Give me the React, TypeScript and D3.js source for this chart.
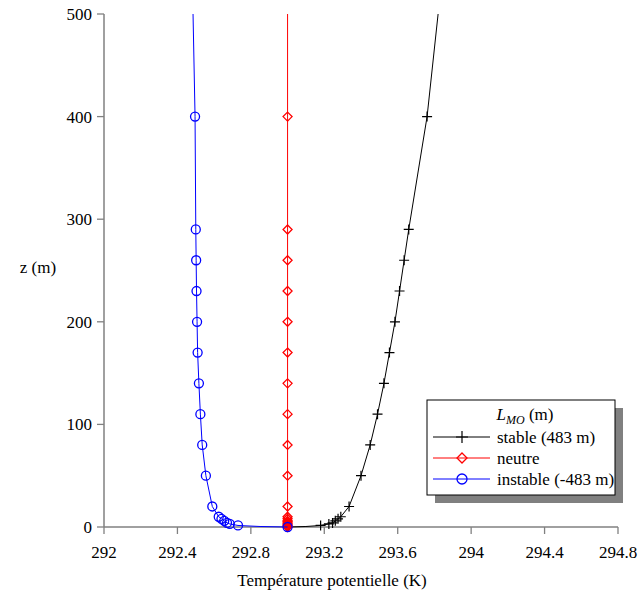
import React from "react";
import * as d3 from "d3";

const xTicks = [292, 292.4, 292.8, 293.2, 293.6, 294, 294.4, 294.8];
const yTicks = [0, 100, 200, 300, 400, 500];

// stable (black)
const stableZ = [500, 400, 290, 260, 230, 200, 170, 140, 110, 80, 50, 20, 10, 8, 6, 4, 3, 1.5, 0.5, 0];
const stableT = [293.82, 293.76, 293.66, 293.635, 293.61, 293.585, 293.555, 293.525, 293.49, 293.45, 293.40, 293.335, 293.29, 293.275, 293.26, 293.245, 293.225, 293.18, 293.1, 293.0];
const stableMarkZ = [400, 290, 260, 230, 200, 170, 140, 110, 80, 50, 20, 10, 8, 6, 4, 3, 1.5];
const stableMarkT = [293.76, 293.66, 293.635, 293.61, 293.585, 293.555, 293.525, 293.49, 293.45, 293.40, 293.335, 293.29, 293.275, 293.26, 293.245, 293.225, 293.18];

// neutre (red)
const neutreZ = [500, 0];
const neutreT = [293.0, 293.0];
const neutreMarkZ = [400, 290, 260, 230, 200, 170, 140, 110, 80, 50, 20, 10, 8, 6, 5, 4, 3, 2, 1, 0];
const neutreMarkT = neutreMarkZ.map(() => 293.0);

// instable (blue)
const instableZ = [500, 400, 290, 260, 230, 200, 170, 140, 110, 80, 50, 20, 10, 8, 6, 4, 3, 1.5, 0.5, 0];
const instableT = [292.485, 292.496, 292.50, 292.502, 292.504, 292.507, 292.51, 292.517, 292.525, 292.535, 292.555, 292.59, 292.625, 292.64, 292.655, 292.67, 292.685, 292.73, 292.85, 293.0];
const instableMarkZ = [400, 290, 260, 230, 200, 170, 140, 110, 80, 50, 20, 10, 8, 6, 4, 3, 1.5, 0];
const instableMarkT = [292.496, 292.50, 292.502, 292.504, 292.507, 292.51, 292.517, 292.525, 292.535, 292.555, 292.59, 292.625, 292.64, 292.655, 292.67, 292.685, 292.73, 293.0];

const FONT = "Liberation Serif, DejaVu Serif, serif";
const TS: React.CSSProperties = { fontFamily: FONT };

export default function App() {
  const W = 639, H = 594;
  const x = d3.scaleLinear().domain([292, 294.8]).range([104, 618]);
  const y = d3.scaleLinear().domain([0, 500]).range([527, 14]);
  const line = d3.line<[number, number]>().x(d => x(d[0])).y(d => y(d[1]));
  const pts = (T: number[], Z: number[]) => T.map((t, i) => [t, Z[i]] as [number, number]);

  const plus = (cx: number, cy: number, k: string, s = 5) => (
    <path key={k} d={`M${cx - s},${cy}H${cx + s}M${cx},${cy - s}V${cy + s}`} stroke="#000" strokeWidth={1.2} fill="none" />
  );
  const diamond = (cx: number, cy: number, k: string, s = 4.5) => (
    <path key={k} d={`M${cx},${cy - s}L${cx + s},${cy}L${cx},${cy + s}L${cx - s},${cy}Z`} stroke="#ff0000" strokeWidth={1.3} fill="none" />
  );
  const circle = (cx: number, cy: number, k: string, r = 4.5) => (
    <circle key={k} cx={cx} cy={cy} r={r} stroke="#0000ff" strokeWidth={1.3} fill="none" />
  );

  const axisColor = "#808080";
  const lx = 427, ly = 400, lw = 188, lh = 95;

  return (
    <div style={{ position: "absolute", left: 0, top: 0 }}>
      <svg width={W} height={H} style={{ display: "block", background: "#fff", fontFamily: FONT }}>
        {/* axes */}
        <line x1={104} x2={104} y1={14} y2={527} stroke={axisColor} strokeWidth={1.5} />
        <line x1={104} x2={618} y1={527} y2={527} stroke={axisColor} strokeWidth={1.5} />
        {yTicks.map(t => (
          <g key={"y" + t}>
            <line x1={97} x2={104} y1={y(t)} y2={y(t)} stroke={axisColor} strokeWidth={1.3} />
            <text style={TS} x={92} y={y(t)} dy="0.35em" textAnchor="end" fontSize={17} fill="#000">{t}</text>
          </g>
        ))}
        {xTicks.map(t => (
          <g key={"x" + t}>
            <line x1={x(t)} x2={x(t)} y1={527} y2={534} stroke={axisColor} strokeWidth={1.3} />
            <text style={TS} x={x(t)} y={558} textAnchor="middle" fontSize={17} fill="#000">{t}</text>
          </g>
        ))}
        <text style={TS} x={38} y={273} textAnchor="middle" fontSize={17} fill="#000">z (m)</text>
        <text style={TS} x={332} y={586} textAnchor="middle" fontSize={17} fill="#000">Température potentielle (K)</text>

        {/* series */}
        <path d={line(pts(stableT, stableZ)) || ""} stroke="#000" strokeWidth={1} fill="none" />
        {stableMarkT.map((t, i) => plus(x(t), y(stableMarkZ[i]), "s" + i))}
        <path d={line(pts(neutreT, neutreZ)) || ""} stroke="#ff0000" strokeWidth={1} fill="none" />
        {neutreMarkT.map((t, i) => diamond(x(t), y(neutreMarkZ[i]), "n" + i))}
        <path d={line(pts(instableT, instableZ)) || ""} stroke="#0000ff" strokeWidth={1} fill="none" />
        {instableMarkT.map((t, i) => circle(x(t), y(instableMarkZ[i]), "i" + i))}

        {/* legend */}
        <rect x={lx + 8} y={ly + 8} width={lw} height={lh} fill="#808080" />
        <rect x={lx} y={ly} width={lw} height={lh} fill="#fff" stroke="#000" strokeWidth={1} />
        <text style={TS} x={lx + 98} y={ly + 20} textAnchor="middle" fontSize={17} fill="#000">
          <tspan fontStyle="italic">L</tspan>
          <tspan fontStyle="italic" fontSize={12} dy={4}>MO</tspan>
          <tspan dy={-4}> (m)</tspan>
        </text>
        {[
          { label: "stable (483 m)", color: "#000", m: (cx: number, cy: number) => plus(cx, cy, "lp", 6) },
          { label: "neutre", color: "#ff0000", m: (cx: number, cy: number) => diamond(cx, cy, "ld", 5) },
          { label: "instable (-483 m)", color: "#0000ff", m: (cx: number, cy: number) => circle(cx, cy, "lc", 5) },
        ].map((e, i) => {
          const yy = ly + 37 + i * 21;
          return (
            <g key={"l" + i}>
              <line x1={lx + 6} x2={lx + 63} y1={yy} y2={yy} stroke={e.color} strokeWidth={1} />
              {e.m(lx + 35, yy)}
              <text style={TS} x={lx + 70} y={yy} dy="0.35em" fontSize={17} fill="#000">{e.label}</text>
            </g>
          );
        })}
      </svg>
    </div>
  );
}
